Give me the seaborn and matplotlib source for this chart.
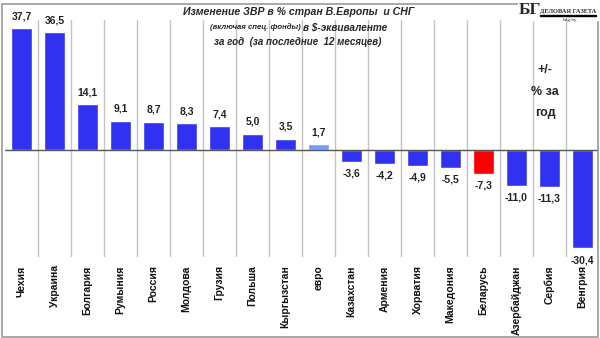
import matplotlib
matplotlib.use("Agg")
import matplotlib.pyplot as plt
import seaborn as sns
import pandas as pd
from matplotlib.patches import Rectangle

categories = ["Чехия", "Украина", "Болгария", "Румыния", "Россия", "Молдова",
              "Грузия", "Польша", "Кыргызстан", "евро", "Казахстан", "Армения",
              "Хорватия", "Македония", "Беларусь", "Азербайджан", "Сербия", "Венгрия"]
values = [37.7, 36.5, 14.1, 9.1, 8.7, 8.3, 7.4, 5.0, 3.5, 1.7, -3.6, -4.2,
          -4.9, -5.5, -7.3, -11.0, -11.3, -30.4]

BLUE = "#3131F2"
LIGHT = "#6E9EF5"
RED = "#FF0000"
colors = {c: BLUE for c in categories}
colors["евро"] = LIGHT
colors["Беларусь"] = RED

sns.set_theme(style="white")
plt.rcParams["font.family"] = ["Liberation Sans", "DejaVu Sans"]

df = pd.DataFrame({"cat": categories, "val": values})

fig = plt.figure(figsize=(6.0, 3.38), dpi=100)
ax = fig.add_axes([5/600, 1-257/338, 594/600, 237/338])

sns.barplot(data=df, x="cat", y="val", hue="cat", palette=colors, legend=False,
            width=0.65, ax=ax, saturation=1, zorder=3)

ax.set_ylim(-33.1, 40.2)
ax.set_xlim(-0.5, len(categories)-0.5)
for s in ax.spines.values():
    s.set_visible(False)
ax.set_yticks([])
ax.set_xlabel("")
ax.set_ylabel("")

# category separators
for i in range(1, len(categories)):
    ax.axvline(i-0.5, color="#C4C4C4", lw=1, zorder=1)
ax.axhline(0, color="#555555", lw=1, zorder=4)

ax.set_xticks(range(len(categories)))
ax.set_xticklabels(categories, rotation=90, fontsize=7.5, fontweight="bold",
                   va="top", ha="center", color="#111111")
ax.tick_params(axis="x", length=0, pad=6)

for cont in ax.containers:
    labs = [f"{b.get_height():.1f}".replace(".", ",") for b in cont]
    ax.bar_label(cont, labels=labs, padding=5, fontsize=7.5, fontweight="bold",
                 color="#222222")

# titles
fig.text(0.498, 1-12/338, "Изменение ЗВР в % стран В.Европы  и СНГ", ha="center",
         va="center", fontsize=7.6, fontweight="bold", style="italic")
fig.text(301/600, 1-27/338, "(включая спец. фонды)", ha="right", va="center",
         fontsize=5.6, fontweight="bold", style="italic")
fig.text(303/600, 1-27/338, "в $-эквиваленте", ha="left", va="center",
         fontsize=7.2, fontweight="bold", style="italic")
fig.text(0.496, 1-42/338, "за год  (за последние  12 месяцев)", ha="center",
         va="center", fontsize=7.0, fontweight="bold", style="italic")

fig.text(545/600, 1-70/338, "+/-", ha="center", va="center", fontsize=9,
         fontweight="bold")
fig.text(545/600, 1-92/338, "% за", ha="center", va="center", fontsize=9,
         fontweight="bold")
fig.text(545/600, 1-113/338, "год", ha="center", va="center", fontsize=9,
         fontweight="bold")

# border (drawn first so logo sits on top)
fig.add_artist(Rectangle((1.5/600, 1.5/338), 596/600, 333/338,
                         transform=fig.transFigure, fill=False,
                         edgecolor="#9A9A9A", lw=1.2))
fig.add_artist(Rectangle((518/600, 1-20/338), 81/600, 19/338,
                         transform=fig.transFigure, color="white", zorder=5))

# logo
fig.text(529.5/600, 1-9.5/338, "БГ", ha="center", va="center", fontsize=12.5,
         fontweight="bold", family="Liberation Serif", zorder=6)
fig.text(568/600, 1-11.5/338, "ДЕЛОВАЯ ГАЗЕТА", ha="center", va="center",
         fontsize=4.6, fontweight="bold", family="Liberation Serif", zorder=6)
fig.add_artist(Rectangle((540/600, 1-15.5/338), 56/600, 0.8/338,
                         transform=fig.transFigure, color="black", zorder=6))
fig.text(570/600, 1-19.5/338, "bdg.by", ha="center", va="center", fontsize=3.8,
         family="Liberation Serif", zorder=6)

fig.savefig("out.png", dpi=100)
